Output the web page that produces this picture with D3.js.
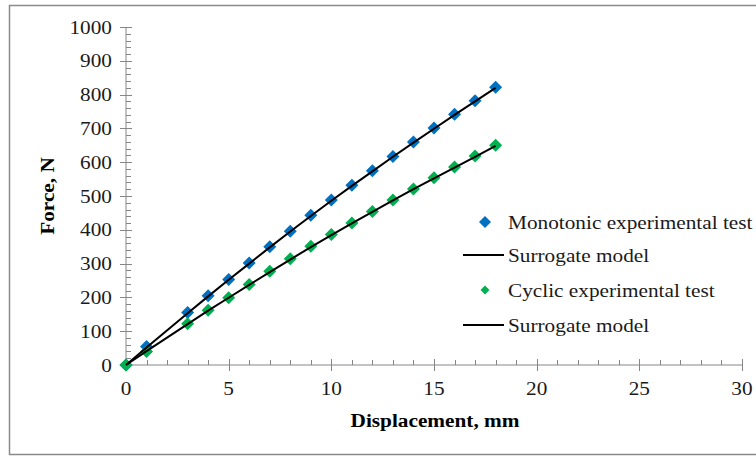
<!DOCTYPE html>
<html>
<head>
<meta charset="utf-8">
<script src="https://cdn.jsdelivr.net/npm/d3@7"></script>
<style>
body { margin: 0; background: #fff; }
svg text { font-family: "Liberation Serif", "Times New Roman", serif; }
</style>
</head>
<body>
<div class="container"></div>
<script>
// displacement (mm) of the test points
var dispExp = [0, 1, 3, 4, 5, 6, 7, 8, 9, 10, 11, 12, 13, 14, 15, 16, 17, 18];
var monoForce = [0, 55, 155, 205, 253, 302, 350, 396, 443, 488, 532, 575, 617, 660, 701, 742, 782, 822];
var cyclicForce = [0, 40, 122, 162, 199, 238, 277, 314, 351, 386, 420, 454, 488, 521, 554, 586, 618, 650];
// surrogate model curves
var dispModel = [0, 1, 3, 4, 5, 6, 7, 8, 9, 10, 11, 12, 13, 14, 15, 16, 17, 18];
var monoModel = [0, 52, 153, 203, 252, 300, 348, 395, 441, 486, 530, 573, 616, 658, 699, 740, 780, 820];
var cyclicModel = [0, 41, 121, 161, 199, 237, 275, 312, 349, 384, 419, 453, 487, 520, 552, 584, 616, 648];

var xTicks = [0, 5, 10, 15, 20, 25, 30];
var yTicks = [0, 100, 200, 300, 400, 500, 600, 700, 800, 900, 1000];

var legendItems = [
  {label: 'Monotonic experimental test', type: 'marker', color: '#0070C0', size: 6},
  {label: 'Surrogate model', type: 'line'},
  {label: 'Cyclic experimental test', type: 'marker', color: '#00B050', size: 4.5},
  {label: 'Surrogate model', type: 'line'}
];

const WIDTH = 756;
const HEIGHT = 457;
const AXIS_COLOR = '#868686';
const FONT = 19;
const STRETCH = 1.12;

var svg = d3.select('.container').append('svg')
  .attr('width', WIDTH)
  .attr('height', HEIGHT);

// text is a bit wider than the plain font, so stretch it horizontally
var label = function(parent, x, y, txt, anchor, rot) {
  return parent.append('text')
    .attr('transform', 'translate(' + x + ',' + y + ')' + (rot ? ' rotate(' + rot + ')' : '') + ' scale(' + STRETCH + ',1)')
    .attr('text-anchor', anchor)
    .attr('font-size', FONT)
    .attr('fill', '#1a1a1a')
    .text(txt);
};

// outer frame
svg.append('rect')
  .attr('x', 9.5).attr('y', 5.5)
  .attr('width', 760).attr('height', 449)
  .attr('fill', 'none')
  .attr('stroke', '#8a8a8a')
  .attr('stroke-width', 1.5);

var xScale = d3.scaleLinear().domain([0, 30]).range([126, 742]);
var yScale = d3.scaleLinear().domain([0, 1000]).range([365, 27]);

// minor ticks
var yMinor = d3.range(0, 1001, 20);
var xMinor = d3.range(0, 31, 1);

var gy = svg.append('g');
gy.append('line')
  .attr('x1', xScale(0)).attr('x2', xScale(0))
  .attr('y1', yScale(0)).attr('y2', yScale(1000))
  .attr('stroke', AXIS_COLOR);
gy.selectAll('.ymin').data(yMinor).enter().append('line')
  .attr('x1', xScale(0)).attr('x2', xScale(0) + 5)
  .attr('y1', function(d){ return Math.round(yScale(d)) + 0.5; })
  .attr('y2', function(d){ return Math.round(yScale(d)) + 0.5; })
  .attr('stroke', AXIS_COLOR);
gy.selectAll('.ymaj').data(yTicks).enter().append('line')
  .attr('x1', xScale(0) - 6).attr('x2', xScale(0) + 6)
  .attr('y1', function(d){ return Math.round(yScale(d)) + 0.5; })
  .attr('y2', function(d){ return Math.round(yScale(d)) + 0.5; })
  .attr('stroke', AXIS_COLOR);
yTicks.forEach(function(d) { label(gy, 112, yScale(d) + 6.5, d, 'end'); });

var gx = svg.append('g');
gx.append('line')
  .attr('x1', xScale(0)).attr('x2', xScale(30))
  .attr('y1', yScale(0)).attr('y2', yScale(0))
  .attr('stroke', AXIS_COLOR);
gx.selectAll('.xmin').data(xMinor).enter().append('line')
  .attr('x1', function(d){ return Math.round(xScale(d)) + 0.5; })
  .attr('x2', function(d){ return Math.round(xScale(d)) + 0.5; })
  .attr('y1', yScale(0)).attr('y2', yScale(0) - 5)
  .attr('stroke', AXIS_COLOR);
gx.selectAll('.xmaj').data(xTicks).enter().append('line')
  .attr('x1', function(d){ return Math.round(xScale(d)) + 0.5; })
  .attr('x2', function(d){ return Math.round(xScale(d)) + 0.5; })
  .attr('y1', yScale(0) - 6).attr('y2', yScale(0) + 6)
  .attr('stroke', AXIS_COLOR);
xTicks.forEach(function(d) { label(gx, xScale(d), 395, d, 'middle'); });

// axis titles
label(svg, 435, 427, 'Displacement, mm', 'middle').attr('font-weight', 'bold').attr('fill', '#000');
label(svg, 54, 196, 'Force, N', 'middle', -90).attr('font-weight', 'bold').attr('fill', '#000');

var line = d3.line()
  .x(function(d){ return xScale(d[0]); })
  .y(function(d){ return yScale(d[1]); });

var diamond = function(s) {
  return 'M0,' + (-s) + 'L' + s + ',0L0,' + s + 'L' + (-s) + ',0Z';
};

var drawSeries = function(xs, ys, color) {
  svg.append('g').selectAll('path').data(d3.zip(xs, ys)).enter().append('path')
    .attr('d', diamond(6.5))
    .attr('transform', function(d){ return 'translate(' + xScale(d[0]) + ',' + yScale(d[1]) + ')'; })
    .attr('fill', color);
};
var drawModel = function(xs, ys) {
  svg.append('path')
    .datum(d3.zip(xs, ys))
    .attr('d', line)
    .attr('fill', 'none')
    .attr('stroke', '#000')
    .attr('stroke-width', 2);
};

drawSeries(dispExp, monoForce, '#0070C0');
drawSeries(dispExp, cyclicForce, '#00B050');
drawModel(dispModel, monoModel);
drawModel(dispModel, cyclicModel);

// legend
var lg = svg.append('g');
var rowY = [222, 255, 290, 325];
legendItems.forEach(function(it, i) {
  var y = rowY[i];
  if (it.type === 'marker') {
    lg.append('path')
      .attr('d', diamond(it.size))
      .attr('transform', 'translate(485,' + y + ')')
      .attr('fill', it.color);
  } else {
    lg.append('line')
      .attr('x1', 463).attr('x2', 504)
      .attr('y1', y).attr('y2', y)
      .attr('stroke', '#000').attr('stroke-width', 2);
  }
  label(lg, 508, y + 6.5, it.label, 'start');
});
</script>
</body>
</html>
